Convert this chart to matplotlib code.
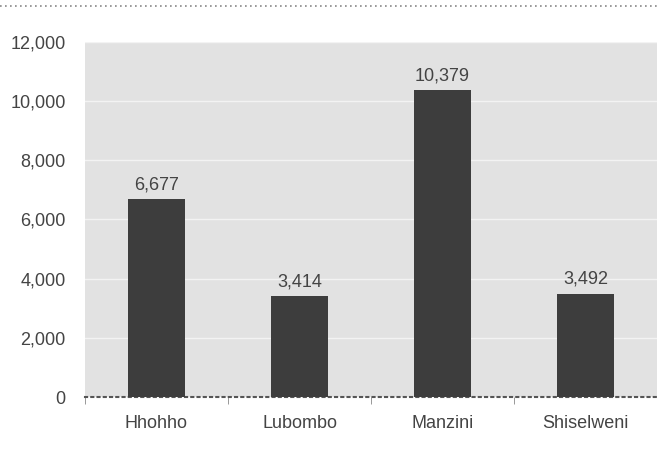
import matplotlib
matplotlib.use("Agg")
from matplotlib import pyplot as plt
from matplotlib.lines import Line2D
from matplotlib.ticker import FuncFormatter, FixedLocator

regions = ["Hhohho", "Lubombo", "Manzini", "Shiselweni"]
counts = [6677, 3414, 10379, 3492]
yticks = [0, 2000, 4000, 6000, 8000, 10000, 12000]

plt.rcParams['font.family'] = ['Liberation Sans', 'DejaVu Sans']
fs = 13
txt = '#444444'

fig = plt.figure(figsize=(6.57, 4.62), dpi=100)
ax = fig.add_axes([85 / 657, 65 / 462, 572 / 657, 355 / 462])
ax.set_facecolor('#e2e2e2')

x = list(range(len(regions)))
ax.bar(x, counts, width=0.4, color='#3d3d3d', zorder=3)
for xi, c in zip(x, counts):
    ax.text(xi, c + 200, f"{c:,}", ha='center', va='bottom', fontsize=fs, color=txt, zorder=4)

ax.set_xlim(-0.5, len(regions) - 0.5)
ax.set_ylim(0, 12000)
ax.set_yticks(yticks)
ax.yaxis.set_major_formatter(FuncFormatter(lambda v, p: f"{int(v):,}"))
ax.grid(axis='y', color='white', linewidth=1.0, alpha=0.6, zorder=1)

ax.set_xticks(x)
ax.set_xticklabels(regions)
ax.xaxis.set_minor_locator(FixedLocator([i - 0.5 for i in range(len(regions) + 1)]))
ax.tick_params(axis='x', which='major', length=0, pad=13, labelsize=fs, labelcolor=txt)
ax.tick_params(axis='x', which='minor', length=5, color='#888888', direction='out')
ax.tick_params(axis='y', length=0, pad=14, labelsize=fs, labelcolor=txt)

for s in ['top', 'right', 'left']:
    ax.spines[s].set_visible(False)
ax.spines['bottom'].set_color('#555555')
ax.spines['bottom'].set_linestyle((0, (1, 2)))
ax.spines['bottom'].set_linewidth(1.5)

# dotted rule at the top of the figure
fig.add_artist(Line2D([0, 1], [1 - 6 / 462, 1 - 6 / 462], transform=fig.transFigure,
                      color='#888888', linestyle=(0, (1, 2)), linewidth=1.2))

plt.savefig("out.png", dpi=100)
